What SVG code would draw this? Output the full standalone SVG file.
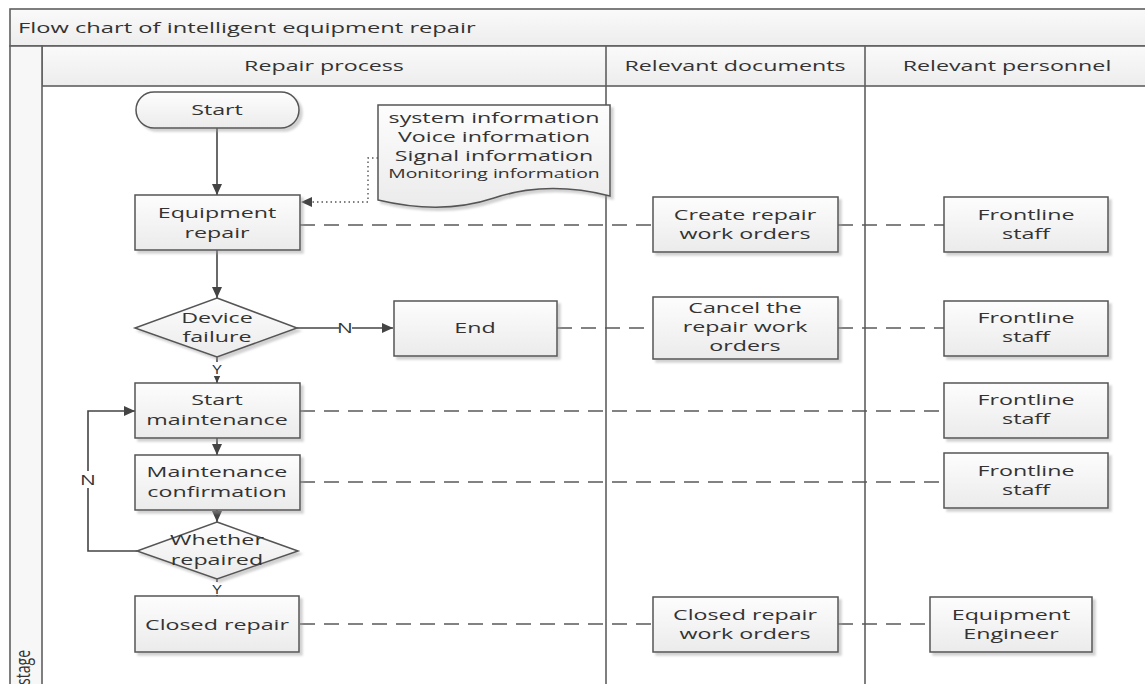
<svg xmlns="http://www.w3.org/2000/svg" width="1145" height="684" viewBox="0 0 1145 684">
<defs>
<style>
.t{font-family:"Open Sans","Liberation Sans",sans-serif;font-size:15px;fill:#333;text-anchor:middle}
.ts{text-anchor:start}
.box{fill:url(#g);stroke:#555;stroke-width:1.5;filter:url(#sh)}
.lane{fill:none;stroke:#5f5f5f;stroke-width:1.6}
.band{fill:url(#hb);stroke:#5f5f5f;stroke-width:1.6}
.arr{fill:none;stroke:#444;stroke-width:1.6;marker-end:url(#ah)}
.dash{fill:none;stroke:#5a5a5a;stroke-width:1.4;stroke-dasharray:15 9}
.dot{fill:none;stroke:#555;stroke-width:1.4;stroke-dasharray:1.5 3;marker-end:url(#ah)}
.lbl{fill:#fff}
</style>
<linearGradient id="g" x1="0" y1="0" x2="0" y2="1"><stop offset="0" stop-color="#fdfdfd"/><stop offset="1" stop-color="#ebebeb"/></linearGradient>
<linearGradient id="hb" x1="0" y1="0" x2="0" y2="1"><stop offset="0" stop-color="#fafafa"/><stop offset="1" stop-color="#ededed"/></linearGradient>
<filter id="sh" x="-10%" y="-10%" width="130%" height="140%"><feDropShadow dx="3" dy="3" stdDeviation="1.2" flood-color="#999" flood-opacity="0.45"/></filter>
<marker id="ah" markerWidth="12" markerHeight="10" refX="11" refY="5" orient="auto" markerUnits="userSpaceOnUse"><path d="M0,0 L11,5 L0,10 Z" fill="#444"/></marker>
</defs>
<rect width="1145" height="684" fill="#fff"/>

<g id="frame">
<rect class="band" x="10" y="9" width="1140" height="37"/>
<rect class="band" x="42" y="46" width="1108" height="40"/>
<rect x="10" y="46" width="32" height="645" fill="#f7f7f7" stroke="#5f5f5f" stroke-width="1.6"/>
<line class="lane" x1="606" y1="46" x2="606" y2="684"/>
<line class="lane" x1="865" y1="46" x2="865" y2="684"/>
<text class="t ts" transform="translate(18 0) scale(1.58 1)" x="0" y="33">Flow chart of intelligent equipment repair</text>
<text class="t" transform="translate(324 0) scale(1.55 1)" x="0" y="71">Repair process</text>
<text class="t" transform="translate(735 0) scale(1.55 1)" x="0" y="71">Relevant documents</text>
<text class="t" transform="translate(1007 0) scale(1.55 1)" x="0" y="71">Relevant personnel</text>
<text class="t" transform="translate(30 650) rotate(-90) scale(1 1.4)" x="0" y="0" style="text-anchor:end;font-size:14px">stage</text>
</g>

<g id="connectors">
<path class="arr" d="M217,128 V195"/>
<path class="arr" d="M217,250 V298"/>
<path class="arr" d="M297,328 H393"/>
<path class="arr" d="M217,357 V383"/>
<path class="arr" d="M217,438 V455"/>
<path class="arr" d="M217,510 V522"/>
<path class="arr" d="M217,579 V596"/>
<path class="arr" d="M137,551 H88 V411 H135"/>
<path class="dot" d="M378,158 H368 V202 H301"/>
<path class="dash" d="M300,225 H653 M838,225 H944"/>
<path class="dash" d="M557,328 H653 M838,328 H944"/>
<path class="dash" d="M300,411 H944"/>
<path class="dash" d="M300,482 H944"/>
<path class="dash" d="M300,624 H653 M838,624 H930"/>
<rect class="lbl" x="339" y="319" width="13" height="17"/>
<text class="t" transform="translate(345 0) scale(1.4 1)" x="0" y="333">N</text>
<rect class="lbl" x="81" y="471" width="14" height="17"/>
<text class="t" transform="translate(88 0) scale(1.4 1)" x="0" y="485">N</text>
<rect class="lbl" x="211" y="362" width="12" height="14"/>
<text class="t" transform="translate(217 0) scale(1.3 1)" x="0" y="374" style="font-size:13px">Y</text>
<rect class="lbl" x="211" y="582" width="12" height="13"/>
<text class="t" transform="translate(217 0) scale(1.3 1)" x="0" y="594" style="font-size:13px">Y</text>
</g>

<g id="start">
<rect class="box" x="136" y="92" width="163" height="36" rx="18"/>
<text class="t" transform="translate(217 0) scale(1.55 1)" x="0" y="115">Start</text>
</g>
<g id="doc">
<path class="box" d="M378,105 H610 V196 C570,186 530,186 494,198 C458,210 420,210 378,200 Z"/>
<text class="t" transform="translate(494 0) scale(1.55 1)" x="0" y="123">system information</text>
<text class="t" transform="translate(494 0) scale(1.55 1)" x="0" y="142">Voice information</text>
<text class="t" transform="translate(494 0) scale(1.55 1)" x="0" y="161">Signal information</text>
<text class="t" transform="translate(494 0) scale(1.55 1)" x="0" y="178" style="font-size:12.5px">Monitoring information</text>
</g>
<g id="equipment-repair">
<rect class="box" x="135" y="195" width="165" height="55"/>
<text class="t" transform="translate(217 0) scale(1.55 1)" x="0" y="218">Equipment</text>
<text class="t" transform="translate(217 0) scale(1.55 1)" x="0" y="238">repair</text>
</g>
<g id="create-orders">
<rect class="box" x="653" y="197" width="185" height="55"/>
<text class="t" transform="translate(745 0) scale(1.55 1)" x="0" y="220">Create repair</text>
<text class="t" transform="translate(745 0) scale(1.55 1)" x="0" y="239">work orders</text>
</g>
<g id="staff-1">
<rect class="box" x="944" y="197" width="164" height="55"/>
<text class="t" transform="translate(1026 0) scale(1.55 1)" x="0" y="220">Frontline</text>
<text class="t" transform="translate(1026 0) scale(1.55 1)" x="0" y="239">staff</text>
</g>
<g id="device-failure">
<polygon class="box" points="217,298 297,328 217,357 135,328"/>
<text class="t" transform="translate(217 0) scale(1.55 1)" x="0" y="323">Device</text>
<text class="t" transform="translate(217 0) scale(1.55 1)" x="0" y="342">failure</text>
</g>
<g id="end">
<rect class="box" x="394" y="301" width="163" height="55"/>
<text class="t" transform="translate(475 0) scale(1.55 1)" x="0" y="333">End</text>
</g>
<g id="cancel-orders">
<rect class="box" x="653" y="297" width="185" height="62"/>
<text class="t" transform="translate(745 0) scale(1.55 1)" x="0" y="313">Cancel the</text>
<text class="t" transform="translate(745 0) scale(1.55 1)" x="0" y="332">repair work</text>
<text class="t" transform="translate(745 0) scale(1.55 1)" x="0" y="351">orders</text>
</g>
<g id="staff-2">
<rect class="box" x="944" y="301" width="164" height="55"/>
<text class="t" transform="translate(1026 0) scale(1.55 1)" x="0" y="323">Frontline</text>
<text class="t" transform="translate(1026 0) scale(1.55 1)" x="0" y="342">staff</text>
</g>
<g id="start-maintenance">
<rect class="box" x="135" y="383" width="165" height="55"/>
<text class="t" transform="translate(217 0) scale(1.55 1)" x="0" y="405">Start</text>
<text class="t" transform="translate(217 0) scale(1.55 1)" x="0" y="425">maintenance</text>
</g>
<g id="staff-3">
<rect class="box" x="944" y="383" width="164" height="55"/>
<text class="t" transform="translate(1026 0) scale(1.55 1)" x="0" y="405">Frontline</text>
<text class="t" transform="translate(1026 0) scale(1.55 1)" x="0" y="424">staff</text>
</g>
<g id="maintenance-confirmation">
<rect class="box" x="135" y="455" width="165" height="55"/>
<text class="t" transform="translate(217 0) scale(1.55 1)" x="0" y="477">Maintenance</text>
<text class="t" transform="translate(217 0) scale(1.55 1)" x="0" y="497">confirmation</text>
</g>
<g id="staff-4">
<rect class="box" x="944" y="453" width="164" height="55"/>
<text class="t" transform="translate(1026 0) scale(1.55 1)" x="0" y="476">Frontline</text>
<text class="t" transform="translate(1026 0) scale(1.55 1)" x="0" y="495">staff</text>
</g>
<g id="whether-repaired">
<polygon class="box" points="217,522 298,551 217,579 137,551"/>
<text class="t" transform="translate(217 0) scale(1.55 1)" x="0" y="545">Whether</text>
<text class="t" transform="translate(217 0) scale(1.55 1)" x="0" y="565">repaired</text>
</g>
<g id="closed-repair">
<rect class="box" x="135" y="596" width="164" height="56"/>
<text class="t" transform="translate(217 0) scale(1.55 1)" x="0" y="630">Closed repair</text>
</g>
<g id="closed-orders">
<rect class="box" x="653" y="597" width="185" height="55"/>
<text class="t" transform="translate(745 0) scale(1.55 1)" x="0" y="620">Closed repair</text>
<text class="t" transform="translate(745 0) scale(1.55 1)" x="0" y="639">work orders</text>
</g>
<g id="equipment-engineer">
<rect class="box" x="930" y="597" width="162" height="55"/>
<text class="t" transform="translate(1011 0) scale(1.55 1)" x="0" y="620">Equipment</text>
<text class="t" transform="translate(1011 0) scale(1.55 1)" x="0" y="639">Engineer</text>
</g>
</svg>
